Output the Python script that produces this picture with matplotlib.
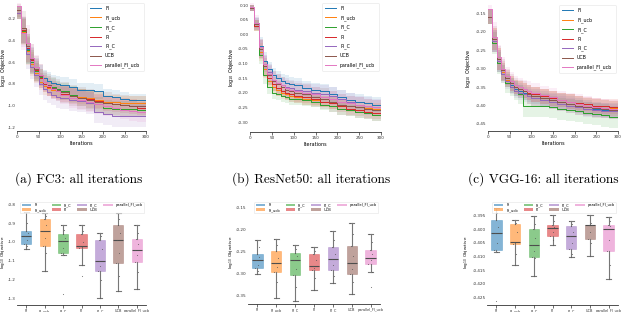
import numpy as np
import matplotlib
matplotlib.use("Agg")
import matplotlib.pyplot as plt
from matplotlib.patches import Patch

plt.rcParams["axes.unicode_minus"] = False

# ---- data -------------------------------------------------------------
methods = ["FI", "FI_ucb", "FI_C", "PI", "PI_C", "UCB", "parallel_FI_ucb"]
colors = ["#1f77b4", "#ff7f0e", "#2ca02c", "#d62728", "#9467bd", "#8c564b", "#e377c2"]

iters = [0, 10, 20, 30, 40, 50, 60, 70, 80, 90, 100, 120, 140, 160, 180, 200, 220, 240, 260, 280, 300]

# FC3 : mean log10 objective (best so far)
fc3_mean = [
    [-0.14, -0.30, -0.48, -0.58, -0.66, -0.72, -0.75, -0.77, -0.79, -0.80, -0.81, -0.83, -0.86, -0.86, -0.87, -0.91, -0.92, -0.94, -0.95, -0.95, -0.95],
    [-0.14, -0.32, -0.50, -0.62, -0.70, -0.78, -0.82, -0.84, -0.86, -0.87, -0.88, -0.90, -0.92, -0.93, -0.95, -0.97, -0.97, -0.98, -0.98, -0.98, -0.98],
    [-0.14, -0.31, -0.49, -0.60, -0.68, -0.74, -0.78, -0.81, -0.83, -0.85, -0.87, -0.90, -0.93, -0.95, -0.99, -1.02, -1.03, -1.03, -1.03, -1.04, -1.04],
    [-0.14, -0.30, -0.47, -0.58, -0.67, -0.75, -0.80, -0.83, -0.85, -0.87, -0.89, -0.91, -0.93, -0.94, -0.96, -0.98, -0.99, -1.00, -1.01, -1.02, -1.03],
    [-0.14, -0.33, -0.52, -0.64, -0.72, -0.80, -0.85, -0.88, -0.90, -0.92, -0.93, -0.95, -0.96, -0.98, -1.06, -1.08, -1.10, -1.10, -1.10, -1.10, -1.10],
    [-0.12, -0.28, -0.45, -0.57, -0.66, -0.73, -0.78, -0.81, -0.84, -0.86, -0.88, -0.91, -0.93, -0.95, -0.97, -0.98, -0.99, -1.00, -1.01, -1.01, -1.02],
    [-0.08, -0.33, -0.42, -0.56, -0.64, -0.72, -0.78, -0.82, -0.85, -0.87, -0.90, -0.93, -0.95, -0.97, -0.99, -1.01, -1.02, -1.04, -1.05, -1.06, -1.06],
]
fc3_std = [
    [0.06, 0.12, 0.14, 0.12, 0.10, 0.09, 0.08, 0.08, 0.07, 0.07, 0.07, 0.07, 0.07, 0.07, 0.07, 0.06, 0.06, 0.06, 0.06, 0.06, 0.06],
    [0.06, 0.12, 0.13, 0.11, 0.09, 0.08, 0.08, 0.07, 0.07, 0.07, 0.07, 0.07, 0.07, 0.07, 0.07, 0.07, 0.07, 0.07, 0.07, 0.07, 0.07],
    [0.06, 0.12, 0.13, 0.11, 0.09, 0.08, 0.08, 0.08, 0.08, 0.08, 0.08, 0.08, 0.08, 0.08, 0.07, 0.07, 0.07, 0.07, 0.07, 0.07, 0.07],
    [0.06, 0.12, 0.13, 0.11, 0.10, 0.09, 0.08, 0.08, 0.08, 0.08, 0.08, 0.08, 0.08, 0.08, 0.07, 0.07, 0.07, 0.07, 0.07, 0.07, 0.07],
    [0.06, 0.13, 0.14, 0.12, 0.11, 0.10, 0.10, 0.10, 0.10, 0.10, 0.10, 0.10, 0.10, 0.10, 0.10, 0.10, 0.10, 0.10, 0.10, 0.10, 0.10],
    [0.06, 0.15, 0.16, 0.14, 0.12, 0.11, 0.10, 0.10, 0.10, 0.10, 0.10, 0.10, 0.10, 0.10, 0.10, 0.10, 0.10, 0.10, 0.10, 0.10, 0.10],
    [0.08, 0.16, 0.16, 0.13, 0.11, 0.10, 0.09, 0.09, 0.09, 0.09, 0.09, 0.09, 0.09, 0.09, 0.09, 0.09, 0.09, 0.09, 0.09, 0.09, 0.09],
]

# ResNet50
resnet_mean = [
    [0.09, 0.04, -0.04, -0.09, -0.12, -0.14, -0.150, -0.16, -0.165, -0.17, -0.175, -0.185, -0.19, -0.195, -0.205, -0.215, -0.225, -0.23, -0.235, -0.24, -0.245],
    [0.09, 0.03, -0.06, -0.12, -0.16, -0.18, -0.19, -0.20, -0.205, -0.21, -0.215, -0.22, -0.225, -0.23, -0.235, -0.24, -0.245, -0.25, -0.252, -0.255, -0.258],
    [0.09, 0.03, -0.07, -0.14, -0.18, -0.20, -0.205, -0.21, -0.215, -0.22, -0.22, -0.225, -0.23, -0.24, -0.245, -0.255, -0.26, -0.265, -0.27, -0.275, -0.28],
    [0.09, 0.03, -0.05, -0.11, -0.15, -0.17, -0.185, -0.195, -0.20, -0.205, -0.21, -0.215, -0.22, -0.23, -0.235, -0.245, -0.255, -0.26, -0.265, -0.268, -0.27],
    [0.09, 0.035, -0.05, -0.10, -0.13, -0.155, -0.165, -0.175, -0.18, -0.185, -0.19, -0.195, -0.20, -0.205, -0.21, -0.22, -0.23, -0.24, -0.245, -0.25, -0.255],
    [0.09, 0.035, -0.05, -0.11, -0.14, -0.16, -0.17, -0.18, -0.19, -0.195, -0.20, -0.205, -0.215, -0.22, -0.23, -0.24, -0.245, -0.25, -0.255, -0.26, -0.265],
    [0.095, 0.04, -0.045, -0.10, -0.135, -0.155, -0.165, -0.175, -0.185, -0.19, -0.195, -0.20, -0.205, -0.215, -0.22, -0.23, -0.235, -0.24, -0.245, -0.248, -0.25],
]
resnet_std = [
    [0.01, 0.02, 0.03, 0.03, 0.025, 0.025, 0.025, 0.025, 0.025, 0.025, 0.025, 0.025, 0.025, 0.025, 0.025, 0.025, 0.025, 0.025, 0.025, 0.025, 0.025],
    [0.01, 0.02, 0.03, 0.03, 0.025, 0.025, 0.02, 0.02, 0.02, 0.02, 0.02, 0.02, 0.02, 0.02, 0.02, 0.02, 0.02, 0.02, 0.02, 0.02, 0.02],
    [0.01, 0.02, 0.03, 0.03, 0.025, 0.02, 0.02, 0.02, 0.02, 0.02, 0.02, 0.02, 0.02, 0.02, 0.02, 0.02, 0.02, 0.02, 0.02, 0.02, 0.02],
    [0.01, 0.02, 0.03, 0.03, 0.025, 0.025, 0.025, 0.02, 0.02, 0.02, 0.02, 0.02, 0.02, 0.02, 0.02, 0.02, 0.02, 0.02, 0.02, 0.02, 0.02],
    [0.01, 0.02, 0.03, 0.03, 0.03, 0.03, 0.03, 0.03, 0.03, 0.03, 0.03, 0.03, 0.03, 0.03, 0.03, 0.03, 0.03, 0.03, 0.03, 0.03, 0.03],
    [0.01, 0.02, 0.035, 0.035, 0.035, 0.035, 0.035, 0.035, 0.035, 0.035, 0.035, 0.035, 0.035, 0.035, 0.035, 0.035, 0.035, 0.035, 0.035, 0.035, 0.035],
    [0.015, 0.025, 0.03, 0.03, 0.025, 0.025, 0.025, 0.025, 0.025, 0.025, 0.025, 0.025, 0.025, 0.025, 0.025, 0.025, 0.025, 0.025, 0.025, 0.025, 0.025],
]

# VGG-16
vgg_mean = [
    [-0.16, -0.225, -0.28, -0.31, -0.33, -0.345, -0.355, -0.36, -0.365, -0.37, -0.375, -0.38, -0.385, -0.39, -0.395, -0.40, -0.405, -0.41, -0.412, -0.414, -0.415],
    [-0.16, -0.22, -0.275, -0.31, -0.33, -0.34, -0.35, -0.355, -0.36, -0.365, -0.37, -0.375, -0.38, -0.385, -0.39, -0.395, -0.40, -0.403, -0.406, -0.408, -0.41],
    [-0.16, -0.23, -0.285, -0.315, -0.34, -0.35, -0.36, -0.37, -0.40, -0.40, -0.40, -0.40, -0.405, -0.41, -0.412, -0.415, -0.42, -0.424, -0.427, -0.43, -0.432],
    [-0.16, -0.22, -0.275, -0.305, -0.325, -0.34, -0.35, -0.355, -0.36, -0.365, -0.37, -0.375, -0.38, -0.385, -0.39, -0.393, -0.396, -0.40, -0.402, -0.403, -0.404],
    [-0.16, -0.225, -0.28, -0.315, -0.335, -0.35, -0.36, -0.365, -0.37, -0.375, -0.38, -0.385, -0.39, -0.395, -0.40, -0.405, -0.41, -0.412, -0.414, -0.416, -0.418],
    [-0.16, -0.22, -0.275, -0.305, -0.325, -0.34, -0.35, -0.355, -0.36, -0.37, -0.375, -0.38, -0.385, -0.39, -0.395, -0.40, -0.404, -0.408, -0.41, -0.412, -0.414],
    [-0.14, -0.215, -0.27, -0.30, -0.32, -0.335, -0.345, -0.35, -0.355, -0.36, -0.365, -0.372, -0.378, -0.385, -0.39, -0.395, -0.40, -0.405, -0.408, -0.41, -0.412],
]
vgg_std = [
    [0.02, 0.03, 0.03, 0.025, 0.02, 0.02, 0.02, 0.02, 0.02, 0.02, 0.02, 0.02, 0.02, 0.02, 0.02, 0.02, 0.02, 0.02, 0.02, 0.02, 0.02],
    [0.02, 0.03, 0.03, 0.025, 0.02, 0.02, 0.02, 0.02, 0.02, 0.02, 0.02, 0.02, 0.02, 0.02, 0.02, 0.02, 0.02, 0.02, 0.02, 0.02, 0.02],
    [0.02, 0.03, 0.03, 0.025, 0.025, 0.025, 0.025, 0.025, 0.03, 0.03, 0.03, 0.03, 0.03, 0.03, 0.03, 0.03, 0.03, 0.03, 0.03, 0.03, 0.03],
    [0.02, 0.03, 0.03, 0.025, 0.02, 0.02, 0.02, 0.02, 0.02, 0.02, 0.02, 0.02, 0.02, 0.02, 0.02, 0.02, 0.02, 0.02, 0.02, 0.02, 0.02],
    [0.02, 0.03, 0.03, 0.025, 0.02, 0.02, 0.02, 0.02, 0.02, 0.02, 0.02, 0.02, 0.02, 0.02, 0.02, 0.02, 0.02, 0.02, 0.02, 0.02, 0.02],
    [0.02, 0.035, 0.035, 0.03, 0.025, 0.025, 0.025, 0.025, 0.025, 0.025, 0.025, 0.025, 0.025, 0.025, 0.025, 0.025, 0.025, 0.025, 0.025, 0.025, 0.025],
    [0.03, 0.04, 0.035, 0.03, 0.025, 0.025, 0.025, 0.025, 0.025, 0.025, 0.025, 0.025, 0.025, 0.025, 0.025, 0.025, 0.025, 0.025, 0.025, 0.025, 0.025],
]

# final values per run (box plots)
fc3_final = [
    [-0.84, -0.90, -0.94, -0.955, -0.97, -0.99, -1.01, -1.02, -1.04],
    [-0.846, -0.86, -0.876, -0.91, -0.944, -0.98, -1.02, -1.06, -1.153],
    [-0.91, -0.935, -0.96, -0.98, -0.996, -1.03, -1.056, -1.067, -1.278],
    [-0.91, -0.94, -0.958, -1.0, -1.019, -1.025, -1.03, -1.12, -1.18],
    [-0.953, -0.97, -0.987, -1.04, -1.10, -1.13, -1.153, -1.20, -1.30],
    [-0.846, -0.88, -0.911, -0.95, -0.99, -1.06, -1.11, -1.18, -1.262],
    [-0.911, -0.95, -0.984, -1.01, -1.045, -1.07, -1.105, -1.16, -1.25],
]
resnet_final = [
    [-0.225, -0.24, -0.255, -0.262, -0.27, -0.28, -0.288, -0.295, -0.301],
    [-0.223, -0.235, -0.249, -0.265, -0.277, -0.285, -0.296, -0.32, -0.355],
    [-0.236, -0.245, -0.253, -0.26, -0.27, -0.29, -0.303, -0.33, -0.362],
    [-0.24, -0.25, -0.256, -0.27, -0.283, -0.288, -0.292, -0.31, -0.337],
    [-0.205, -0.225, -0.24, -0.255, -0.268, -0.28, -0.292, -0.305, -0.322],
    [-0.185, -0.21, -0.237, -0.26, -0.276, -0.29, -0.301, -0.32, -0.346],
    [-0.21, -0.23, -0.246, -0.255, -0.264, -0.27, -0.278, -0.296, -0.331],
]
vgg_final = [
    [-0.392, -0.394, -0.3967, -0.399, -0.4013, -0.405, -0.4075, -0.4083, -0.4262],
    [-0.3965, -0.3975, -0.398, -0.401, -0.4048, -0.405, -0.4055, -0.409, -0.413],
    [-0.3952, -0.398, -0.400, -0.403, -0.4057, -0.408, -0.410, -0.4105, -0.417],
    [-0.3946, -0.397, -0.3983, -0.399, -0.3995, -0.401, -0.4025, -0.404, -0.4057],
    [-0.397, -0.398, -0.3989, -0.401, -0.4025, -0.405, -0.4073, -0.409, -0.410],
    [-0.3946, -0.3975, -0.3983, -0.3984, -0.3985, -0.401, -0.4037, -0.405, -0.4097],
    [-0.3955, -0.397, -0.3983, -0.3988, -0.400, -0.404, -0.4079, -0.413, -0.4181],
]

captions = ["(a) FC3: all iterations", "(b) ResNet50: all iterations", "(c) VGG-16: all iterations"]

# ---- layout (pixel boxes: left, top, right, bottom) -------------------
W, H = 640, 312
line_boxes = [(17, 3, 146, 131), (250, 3, 381, 132), (488, 5, 618, 131)]
box_boxes = [(17, 200, 146, 305), (248, 200, 380, 304), (487, 200, 618, 305)]
line_ylabel_gap = [9, 14, 15]
box_ylabel_gap = [10, 13, 17]
line_ylims = [(-1.237, -0.052), (-0.334, 0.107), (-0.469, -0.128)]
line_yticks = [
    [-1.2, -1.0, -0.8, -0.6, -0.4, -0.2],
    [-0.30, -0.25, -0.20, -0.15, -0.10, -0.05, 0.00, 0.05, 0.10],
    [-0.45, -0.40, -0.35, -0.30, -0.25, -0.20, -0.15],
]
box_ylims = [(-1.335, -0.777), (-0.369, -0.134), (-0.4278, -0.3892)]
box_yticks = [
    [-1.3, -1.2, -1.1, -1.0, -0.9, -0.8],
    [-0.35, -0.30, -0.25, -0.20, -0.15],
    [-0.425, -0.420, -0.415, -0.410, -0.405, -0.400, -0.395],
]
caption_x = [79, 311, 543]
caption_y = 179
jitter = [-0.10, 0.06, -0.03, 0.09, -0.07, 0.02, -0.11, 0.05, 0.0]

SMALL = 3.0


def px_rect(l, t, r, b):
    return [l / W, 1 - b / H, (r - l) / W, (b - t) / H]


def style_axes(ax):
    for s in ["top", "right", "left"]:
        ax.spines[s].set_visible(False)
    ax.spines["bottom"].set_linewidth(0.6)
    ax.spines["bottom"].set_color("#333333")
    ax.tick_params(axis="both", labelsize=SMALL, pad=1, colors="#333333")
    ax.tick_params(axis="y", length=0)
    ax.tick_params(axis="x", length=2, width=0.5)


def draw_lines(ax, means, stds, ylim, yticks, gap, width_px):
    x = np.array(iters)
    for name, c, m, s in zip(methods, colors, means, stds):
        m = np.array(m)
        s = np.array(s)
        ax.fill_between(x, m - s, m + s, step="post", color=c, alpha=0.12, lw=0)
        ax.plot(x, m, drawstyle="steps-post", color=c, lw=0.7, label=name)
    ax.set_xlim(0, 300)
    ax.set_ylim(*ylim)
    ax.set_xticks([0, 50, 100, 150, 200, 250, 300])
    ax.set_yticks(yticks)
    ax.set_xlabel("Iterations", fontsize=SMALL + 0.5, labelpad=1)
    ax.set_ylabel(r"$\log_{10}$ Objective", fontsize=SMALL + 0.5)
    ax.yaxis.set_label_coords(-gap / width_px, 0.5)
    style_axes(ax)
    leg = ax.legend(loc="upper right", bbox_to_anchor=(1.0, 1.02), fontsize=SMALL + 0.4,
                    handlelength=2.4, labelspacing=0.85, borderpad=0.7,
                    frameon=True, fancybox=True)
    leg.get_frame().set_linewidth(0.4)
    leg.get_frame().set_edgecolor("#dddddd")


def draw_boxes(ax, finals, ylim, yticks, gap, width_px):
    pos = np.arange(len(methods))
    bp = ax.boxplot(finals, positions=pos, widths=0.55, patch_artist=True,
                    whis=1.5, showfliers=False,
                    medianprops=dict(color="#4d4d4d", lw=0.8),
                    whiskerprops=dict(color="#777777", lw=0.8),
                    capprops=dict(color="#777777", lw=0.8))
    for patch, c in zip(bp["boxes"], colors):
        patch.set_facecolor(c)
        patch.set_alpha(0.55)
        patch.set_edgecolor(c)
        patch.set_linewidth(0.4)
    for i, vals in enumerate(finals):
        xs = [pos[i] + j for j in jitter[:len(vals)]]
        ax.scatter(xs, vals, s=0.6, color="#555555", alpha=0.8, lw=0, zorder=3)
    ax.set_xlim(-0.5, len(methods) - 0.5)
    ax.set_ylim(*ylim)
    ax.set_yticks(yticks)
    ax.set_xticks(pos)
    ax.set_xticklabels(methods)
    ax.set_ylabel(r"$\log_{10}$ Objective", fontsize=SMALL)
    ax.yaxis.set_label_coords(-gap / width_px, 0.5)
    style_axes(ax)
    ax.tick_params(axis="x", labelsize=2.5)
    handles = [Patch(facecolor=c, alpha=0.55, edgecolor="none", label=n) for n, c in zip(methods, colors)]
    leg = ax.legend(handles=handles, loc="upper right", bbox_to_anchor=(1.0, 1.0), ncol=4,
                    fontsize=2.6, handlelength=2.6, handleheight=0.8,
                    labelspacing=0.2, columnspacing=1.6, borderpad=0.4, frameon=True)
    leg.get_frame().set_linewidth(0.4)
    leg.get_frame().set_edgecolor("#dddddd")


fig = plt.figure(figsize=(6.4, 3.12), dpi=100)

all_means = [fc3_mean, resnet_mean, vgg_mean]
all_stds = [fc3_std, resnet_std, vgg_std]
all_finals = [fc3_final, resnet_final, vgg_final]

for k in range(3):
    lb = line_boxes[k]
    ax = fig.add_axes(px_rect(*lb))
    draw_lines(ax, all_means[k], all_stds[k], line_ylims[k], line_yticks[k],
               line_ylabel_gap[k], lb[2] - lb[0])

    bb = box_boxes[k]
    bx = fig.add_axes(px_rect(*bb))
    draw_boxes(bx, all_finals[k], box_ylims[k], box_yticks[k],
               box_ylabel_gap[k], bb[2] - bb[0])

    fig.text(caption_x[k] / W, 1 - caption_y / H, captions[k], ha="center", va="center",
             fontsize=9.6, family="cmr10")

fig.savefig("out.png", dpi=100)
